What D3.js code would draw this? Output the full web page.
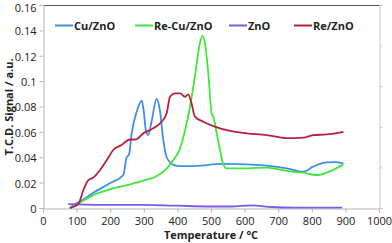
<!DOCTYPE html>
<html><head><meta charset="utf-8">
<script src="https://cdn.jsdelivr.net/npm/d3@7"></script>
<style>
html,body{margin:0;padding:0;background:#fff;}
svg text{font-family:"Open Sans","Noto Sans",sans-serif;fill:#222;}
</style></head>
<body><svg id="c" width="392" height="243"></svg>
<script>
const xTicks = [0,100,200,300,400,500,600,700,800,900,1000];
const yTicks = [0,0.02,0.04,0.06,0.08,0.1,0.12,0.14,0.16];
const yTickLabels = ["0","0.02","0.04","0.06","0.08","0.1","0.12","0.14","0.16"];
const seriesNames = ["Cu/ZnO","Re-Cu/ZnO","ZnO","Re/ZnO"];
const seriesColors = ["#3f8fe8","#3ee83a","#7a5ce8","#b82040"];

const cuZnO = [[80,0],[95,0.003],[110,0.005],[150,0.012],[199,0.0195],[239,0.026],[249,0.040],[256,0.042],[264,0.059],[279,0.076],[294,0.0846],[300,0.076],[306,0.0615],[313,0.0575],[323,0.068],[338,0.0859],[348,0.077],[358,0.0536],[368,0.040],[388,0.034],[408,0.033],[438,0.033],[537,0.0347],[606,0.0344],[666,0.0334],[725,0.0313],[775,0.0286],[804,0.0326],[844,0.036],[870,0.0362],[894,0.0352]];
const reCuZnO = [[80,0],[110,0.0042],[150,0.0102],[199,0.0147],[249,0.018],[299,0.0215],[338,0.025],[368,0.031],[388,0.0378],[408,0.047],[423,0.0615],[437,0.079],[452,0.1035],[467,0.13],[475,0.1356],[482,0.13],[492,0.106],[502,0.0746],[507,0.072],[517,0.059],[527,0.0457],[537,0.034],[547,0.0313],[606,0.0313],[666,0.0318],[725,0.0292],[775,0.0278],[815,0.026],[844,0.0278],[894,0.0344]];
const znO = [[75,0.003],[100,0.0028],[200,0.0024],[300,0.0025],[400,0.0018],[500,0.0012],[560,0.0012],[620,0.002],[680,0.0008],[750,0.0003],[890,0.0003]];
const reZnO = [[80,0],[105,0.003],[120,0.014],[135,0.022],[150,0.024],[170,0.030],[190,0.0378],[209,0.0457],[234,0.0497],[259,0.054],[274,0.054],[299,0.0589],[328,0.0628],[353,0.068],[368,0.0746],[378,0.0877],[393,0.0904],[408,0.0904],[423,0.0877],[432,0.0896],[442,0.0825],[452,0.072],[477,0.068],[507,0.0646],[557,0.0607],[606,0.0589],[666,0.0575],[725,0.055],[775,0.0554],[804,0.0575],[844,0.058],[894,0.060]];
const allSeries = [cuZnO, reCuZnO, znO, reZnO];

const svg = d3.select("#c");
const x = d3.scaleLinear().domain([0,1000]).range([43,379]);
const y = d3.scaleLinear().domain([0,0.16]).range([208,5]);

// frame
svg.append("line").attr("x1",43).attr("x2",381).attr("y1",5.5).attr("y2",5.5).attr("stroke","#555").attr("stroke-width",1);
// right secondary axis
const yR = d3.scaleLinear().domain([0,5]).range([208,5]);
const rAx = svg.append("g").attr("transform","translate(379.5,0)")
  .call(d3.axisRight(yR).ticks(5).tickSize(3).tickFormat(""));
rAx.selectAll("path,line").attr("stroke","#c8c8c8");

// left axis
const lAx = svg.append("g").attr("transform","translate(43.5,0)")
  .call(d3.axisLeft(y).tickValues(yTicks).tickSize(4).tickPadding(3).tickFormat((d,i)=>yTickLabels[i]));
lAx.selectAll("path,line").attr("stroke","#b5b5b5");
lAx.selectAll("text").attr("font-size","11px").attr("fill","#222")
  .attr("dy",(d,i)=> i===yTicks.length-1 ? "0.6em" : "0.4em");
// bottom axis
const bAx = svg.append("g").attr("transform","translate(0,208.5)")
  .call(d3.axisBottom(x).tickValues(xTicks).tickSize(4).tickPadding(5).tickFormat(d3.format("d")));
bAx.selectAll("path,line").attr("stroke","#b5b5b5");
bAx.selectAll("text").attr("font-size","11px").attr("fill","#222");

// lines
const line = d3.line().x(d=>x(d[0])).y(d=>y(d[1])).curve(d3.curveMonotoneX);
allSeries.forEach((s,i)=>{
  svg.append("path").datum(s).attr("d",line).attr("fill","none")
    .attr("stroke",seriesColors[i]).attr("stroke-width",1.8).attr("stroke-linejoin","round");
});

// legend
const legX = [55,135,229,294];
seriesNames.forEach((n,i)=>{
  const g = svg.append("g").attr("transform",`translate(${legX[i]},25.5)`);
  g.append("line").attr("x1",0).attr("x2",18).attr("stroke",seriesColors[i]).attr("stroke-width",2);
  g.append("text").attr("x",19).attr("y",4).attr("font-size","11px").attr("font-weight","bold").text(n);
});

// axis titles
svg.append("text").attr("x",211).attr("y",239).attr("text-anchor","middle")
  .attr("font-size","11px").attr("font-weight","bold").text("Temperature / °C");
svg.append("text").attr("transform","translate(13,107) rotate(-90)").attr("text-anchor","middle")
  .attr("font-size","11px").attr("font-weight","bold").text("T.C.D. Signal / a.u.");
</script></body></html>
